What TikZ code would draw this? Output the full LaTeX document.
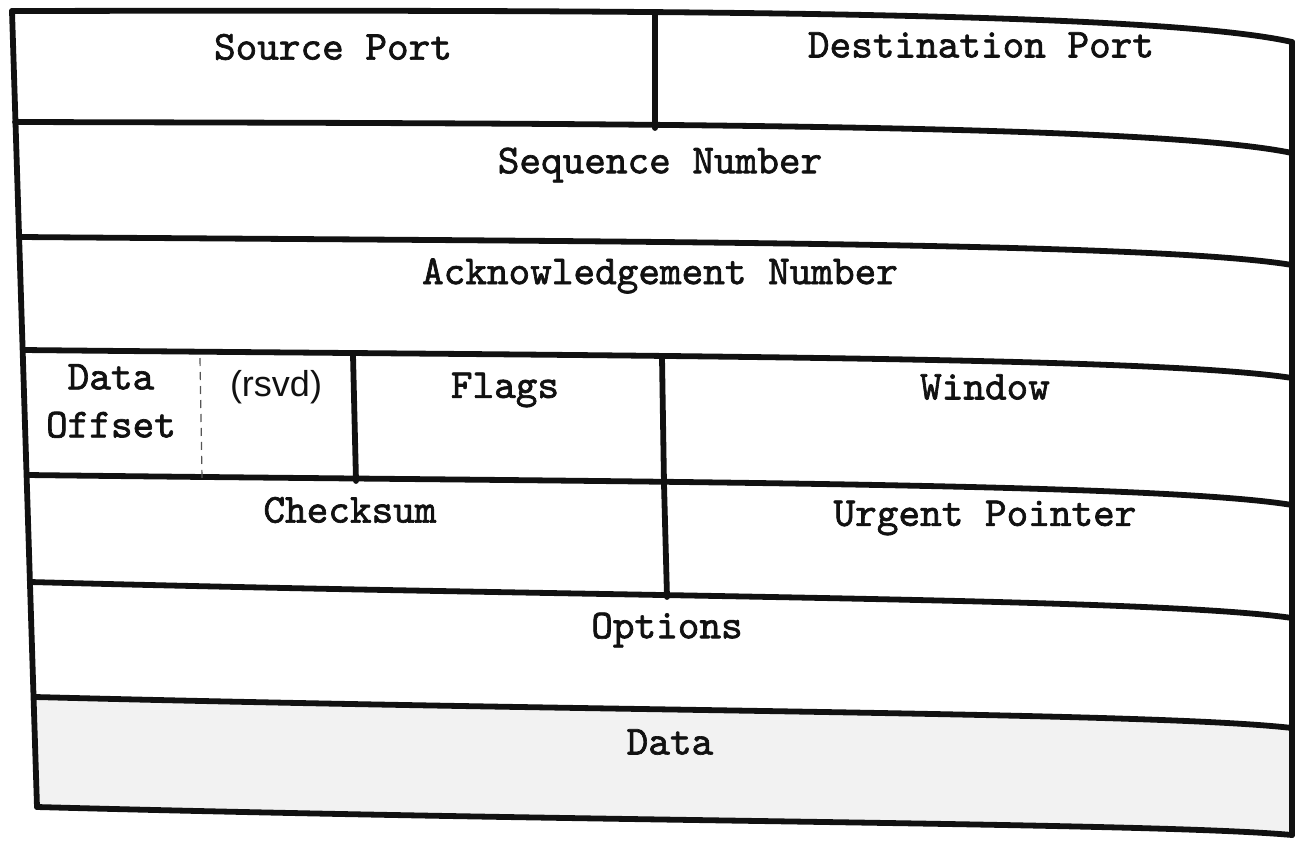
\documentclass[tikz,border=0pt]{standalone}
\usepackage{fontspec}
\usepackage{tikz}
\newfontfamily\fieldfont{lmmono10-regular.otf}[FakeBold=1.6]
\newfontfamily\rsvdfont{Liberation Sans}
\definecolor{ink}{HTML}{111111}
\definecolor{paper}{HTML}{F2F2F2}
\definecolor{dashink}{HTML}{555555}

\begin{document}
\begin{tikzpicture}[
  x=0.5pt,y=-0.5pt,
  every node/.style={font=\fieldfont\fontsize{20.6}{24}\selectfont,text=ink,inner sep=0pt},
  rule/.style={line width=2.9pt,color=ink,line cap=round,line join=round},
  sepline/.style={line width=0.6pt,color=dashink,dash pattern=on 4pt off 3pt}
]
\useasboundingbox (0,0) rectangle (1296,841);
% shaded data band
\fill[paper] (35,697) .. controls (600,711.8) and (1150,711.8) .. (1292,728)
  -- (1292,835) .. controls (1150,822.3) and (600,822.3) .. (37,807) -- cycle;
% header rows, left end / bow / right end
\foreach \xl/\yl/\ym/\yr in {12/11/10/42, 15/122/123.5/153, 20/237/241.7/265,
    23/350/356/378, 27/475/482/505, 30/582/597.3/618, 35/697/711.8/728, 37/807/822.3/835}
  \draw[rule] (\xl,\yl) .. controls (600,\ym) and (1150,\ym) .. (1292,\yr);
% frame sides and column walls
\draw[rule] (12,11) -- (37,807);
\draw[rule] (1292,42) -- (1292,835);
\draw[rule] (655,13) -- (655,128);
\draw[rule] (353,355) -- (356,481);
\draw[rule] (662,357) -- (664,484);
\draw[rule] (664,484) -- (667,597);
\draw[sepline] (200,358) -- (202,478);
% field names
\node (srcport) at (333,47) {Source Port};
\node (dstport) at (981,45) {Destination Port};
\node (seqnum) at (660,165) {Sequence Number};
\node (acknum) at (660,276) {Acknowledgement Number};
\node[align=center] (offset) at (111,401) {Data\\Offset};
\node[font=\rsvdfont\fontsize{18}{21.5}\selectfont] (rsvd) at (276,387) {(rsvd)};
\node (flags) at (505,390) {Flags};
\node (window) at (985,387) {Window};
\node (checksum) at (350,510) {Checksum};
\node (urgent) at (985,518) {Urgent Pointer};
\node (options) at (667,630) {Options};
\node (data) at (670,742) {Data};
\end{tikzpicture}
\end{document}
